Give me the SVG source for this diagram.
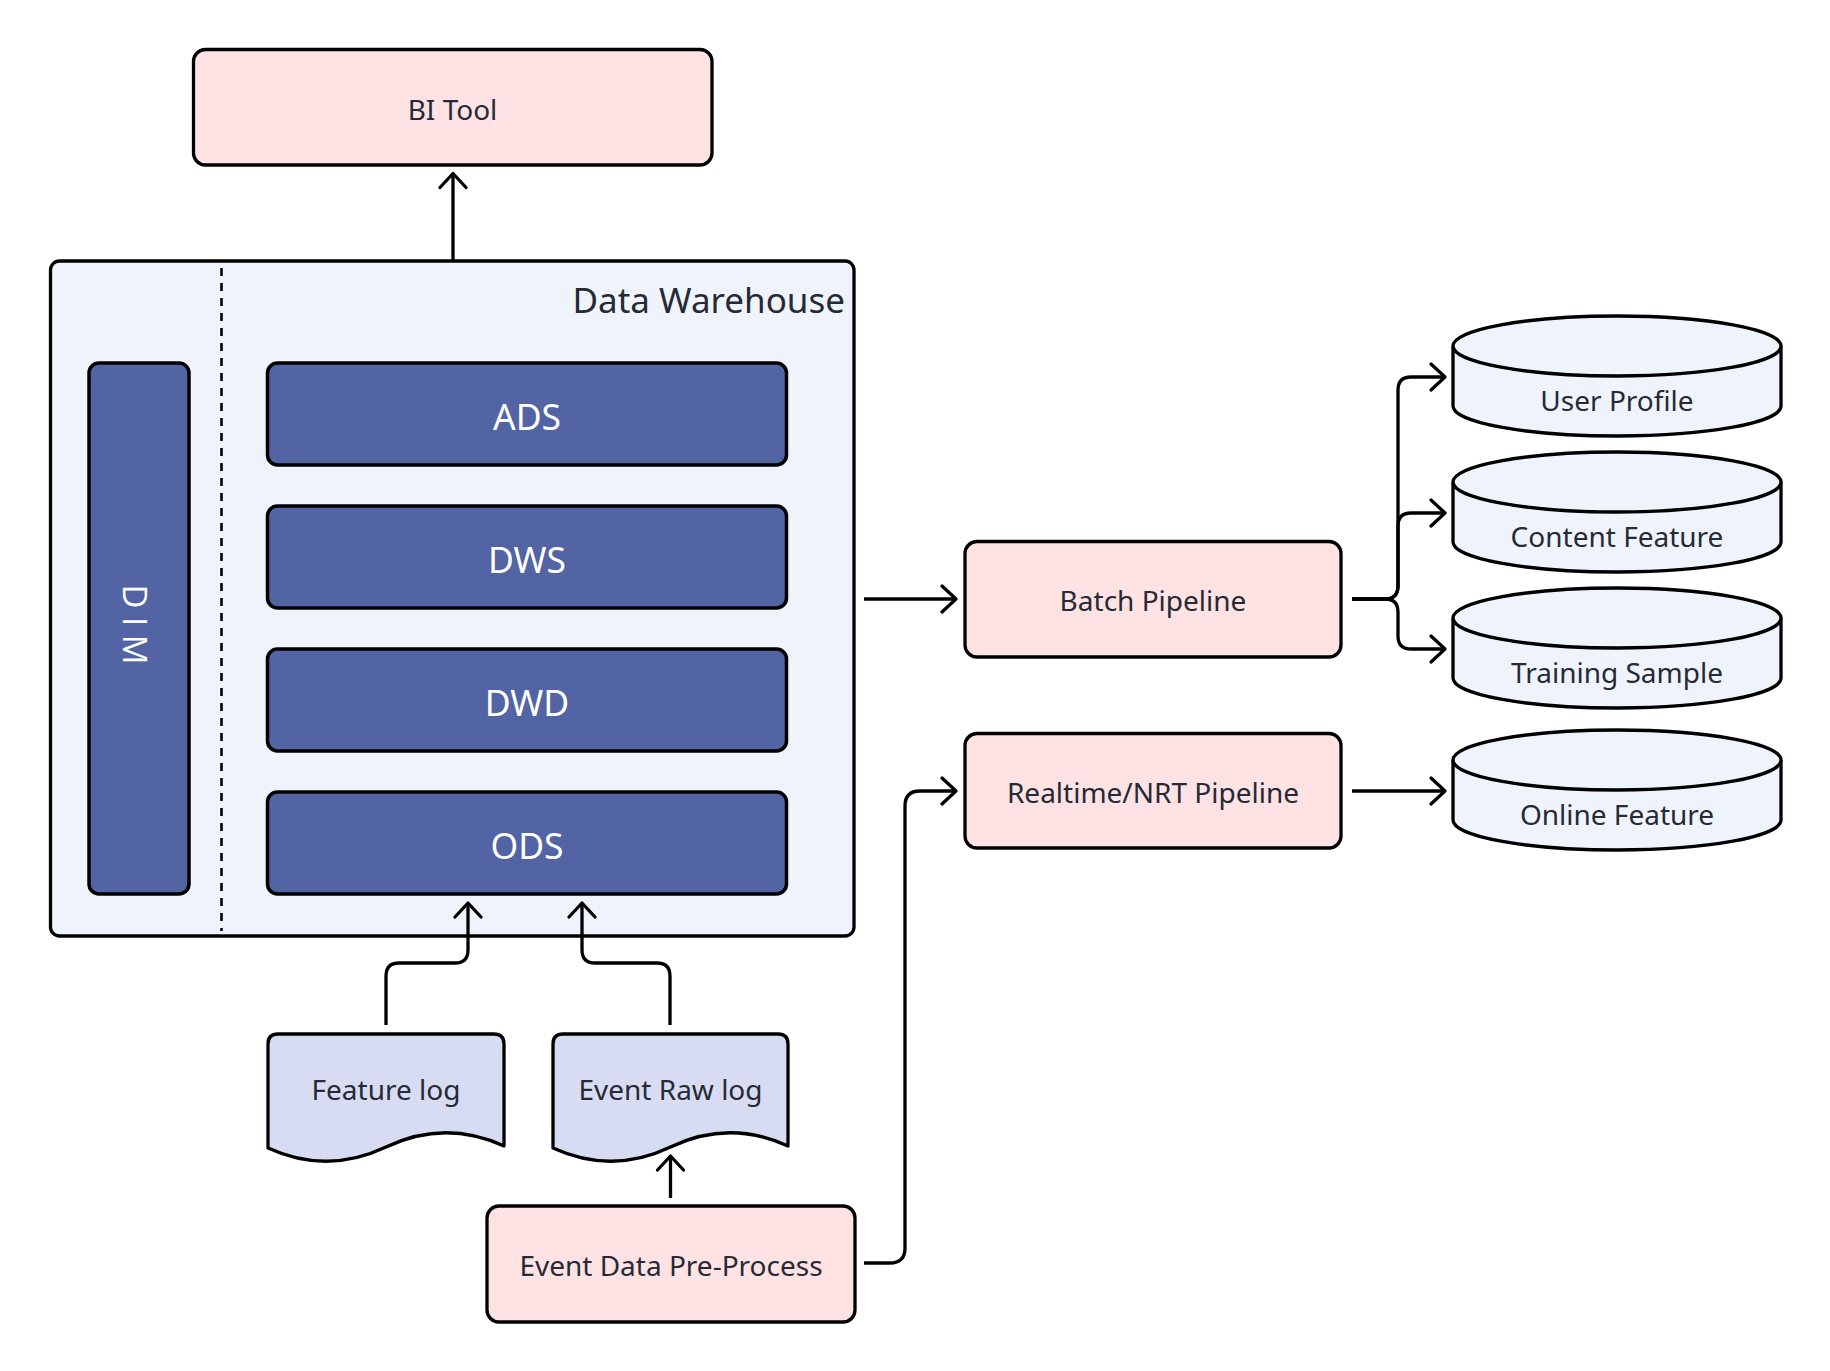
<svg xmlns="http://www.w3.org/2000/svg" width="1830" height="1371" viewBox="0 0 1830 1371">
<defs>
<marker id="arr" markerUnits="userSpaceOnUse" markerWidth="40" markerHeight="40" refX="0" refY="0" viewBox="-20 -20 40 40" orient="auto" overflow="visible">
<path d="M-14,-13 L0,0 L-14,13" fill="none" stroke="#000" stroke-width="3.3" stroke-linecap="round" stroke-linejoin="round"/>
</marker>
</defs>
<style>
text{font-family:"Noto Sans","Open Sans","DejaVu Sans",sans-serif;fill:#262a35;}
.pink{fill:#ffe2e4;stroke:#000;stroke-width:3.3;}
.blue{fill:#5264a4;stroke:#000;stroke-width:3.5;}
.wh{fill:#fff;font-size:35.5px;text-anchor:middle;}
.lbl{font-size:28px;text-anchor:middle;}
.doc{fill:#d7dcf3;stroke:#000;stroke-width:3.3;stroke-linejoin:round;}
.cyl{fill:#eff4fc;stroke:#000;stroke-width:3.3;}
.edge{fill:none;stroke:#000;stroke-width:3.3;marker-end:url(#arr);}
</style>
<rect width="1830" height="1371" fill="#fff"/>

<g id="bi-tool">
<rect class="pink" x="193.5" y="49.5" width="518.5" height="115.5" rx="12"/>
<text class="lbl" x="452.5" y="120">BI Tool</text>
</g>

<g id="data-warehouse">
<rect x="50.5" y="261" width="803.5" height="675" rx="9" fill="#eff4fc" stroke="#000" stroke-width="3.3"/>
<line x1="221.5" y1="268" x2="221.5" y2="931" stroke="#000" stroke-width="2.6" stroke-dasharray="8 7"/>
<text x="845" y="313" style="font-size:35px" text-anchor="end">Data Warehouse</text>
</g>

<g id="dim">
<rect class="blue" x="89" y="363" width="100" height="531" rx="10"/>
<text x="123" y="624.5" style="fill:#fff;font-size:33px;font-family:'Open Sans','Noto Sans',sans-serif" text-anchor="middle" transform="rotate(90 123 624.5)">D I M</text>
</g>

<g id="ads">
<rect class="blue" x="267.5" y="363" width="519" height="102" rx="10"/>
<text class="wh" x="527" y="430">ADS</text>
</g>
<g id="dws">
<rect class="blue" x="267.5" y="506" width="519" height="102" rx="10"/>
<text class="wh" x="527" y="573">DWS</text>
</g>
<g id="dwd">
<rect class="blue" x="267.5" y="649" width="519" height="102" rx="10"/>
<text class="wh" x="527" y="716">DWD</text>
</g>
<g id="ods">
<rect class="blue" x="267.5" y="792" width="519" height="102" rx="10"/>
<text class="wh" x="527" y="859">ODS</text>
</g>

<g id="feature-log">
<path class="doc" d="M268 1148 V1044 Q268 1034 278 1034 H494 Q504 1034 504 1044 V1146 Q445 1119 386 1147 Q327 1175 268 1148 Z"/>
<text class="lbl" x="386" y="1100">Feature log</text>
</g>

<g id="event-raw-log">
<path class="doc" d="M553 1148 V1044 Q553 1034 563 1034 H778 Q788 1034 788 1044 V1146 Q729 1119 670.5 1147 Q612 1175 553 1148 Z"/>
<text class="lbl" x="670.5" y="1100">Event Raw log</text>
</g>

<g id="event-data-pre-process">
<rect class="pink" x="487" y="1206" width="368" height="116" rx="12"/>
<text class="lbl" x="671" y="1276">Event Data Pre-Process</text>
</g>

<g id="batch-pipeline">
<rect class="pink" x="965" y="541.5" width="376" height="115.5" rx="12"/>
<text class="lbl" x="1153" y="611">Batch Pipeline</text>
</g>

<g id="realtime-pipeline">
<rect class="pink" x="965" y="733.5" width="376" height="114.5" rx="12"/>
<text class="lbl" x="1153" y="803">Realtime/NRT Pipeline</text>
</g>

<g id="user-profile">
<path class="cyl" d="M1453 346 A164 30 0 0 1 1781 346 V406 A164 30 0 0 1 1453 406 Z"/>
<path class="cyl" fill="none" d="M1453 346 A164 30 0 0 0 1781 346"/>
<text class="lbl" x="1617" y="411">User Profile</text>
</g>
<g id="content-feature">
<path class="cyl" d="M1453 482 A164 30 0 0 1 1781 482 V542 A164 30 0 0 1 1453 542 Z"/>
<path class="cyl" fill="none" d="M1453 482 A164 30 0 0 0 1781 482"/>
<text class="lbl" x="1617" y="547">Content Feature</text>
</g>
<g id="training-sample">
<path class="cyl" d="M1453 618 A164 30 0 0 1 1781 618 V678 A164 30 0 0 1 1453 678 Z"/>
<path class="cyl" fill="none" d="M1453 618 A164 30 0 0 0 1781 618"/>
<text class="lbl" x="1617" y="683">Training Sample</text>
</g>
<g id="online-feature">
<path class="cyl" d="M1453 760 A164 30 0 0 1 1781 760 V820 A164 30 0 0 1 1453 820 Z"/>
<path class="cyl" fill="none" d="M1453 760 A164 30 0 0 0 1781 760"/>
<text class="lbl" x="1617" y="825">Online Feature</text>
</g>

<g id="connectors">
<path class="edge" d="M453 260 V173.5"/>
<path class="edge" d="M386 1025 V976 Q386 963 399 963 H455 Q468 963 468 950 V903"/>
<path class="edge" d="M670 1025 V976 Q670 963 657 963 H595 Q582 963 582 950 V903"/>
<path class="edge" d="M670.5 1198 V1156"/>
<path class="edge" d="M864 599 H956"/>
<path class="edge" d="M1352 599 H1385 Q1398 599 1398 586 V390 Q1398 377 1411 377 H1445"/>
<path class="edge" d="M1352 599 H1385 Q1398 599 1398 586 V526 Q1398 513 1411 513 H1445"/>
<path class="edge" d="M1352 599 H1385 Q1398 599 1398 612 V636 Q1398 649 1411 649 H1445"/>
<path class="edge" d="M1352 791 H1445"/>
<path class="edge" d="M864 1263 H890 Q905 1263 905 1248 V806 Q905 791 920 791 H956"/>
</g>
</svg>
